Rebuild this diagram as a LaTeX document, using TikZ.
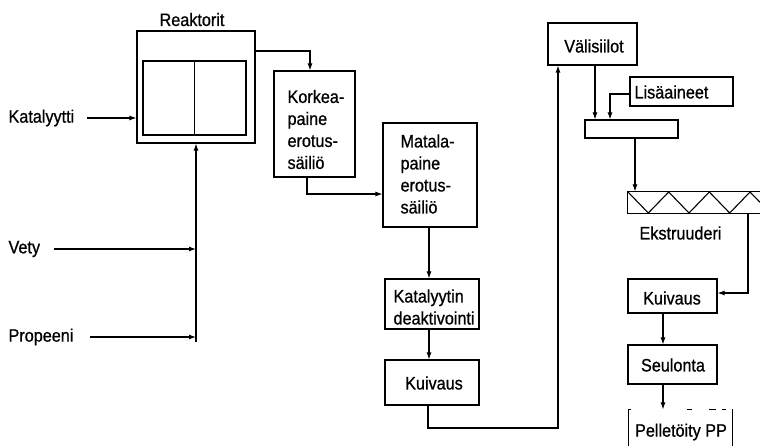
\documentclass[tikz,border=0pt]{standalone}
\usepackage{fontspec}
\setmainfont{Liberation Sans}[FakeStretch=0.9,FakeBold=0.8]
\usetikzlibrary{arrows.meta}
\begin{document}
\begin{tikzpicture}[x=1pt,y=-1pt,
  line width=1.1pt,
  every node/.style={font=\fontsize{18}{22}\selectfont},
  blk/.style={draw, rectangle, inner sep=0pt, line width=1.1pt},
  ghost/.style={rectangle, inner sep=0pt},
  txt/.style={inner sep=0pt, align=left},
  arr/.style={-{Latex[length=7pt,width=5pt]}, line width=1.1pt}]
\useasboundingbox (0,0) rectangle (760,446);
% boxes
\node[blk, minimum width=118, minimum height=112] (reak) at (196,87) {};
\node[blk, minimum width=103, minimum height=74] (inner) at (194.5,98) {};
\draw (inner.north) -- (inner.south);
\node[inner sep=0pt, anchor=base] (reaklbl) at (192,26) {Reaktorit};
\node[blk, minimum width=81, minimum height=106] (korkea) at (314.5,124) {};
\node[txt, anchor=west] (korkeatxt) at (287,129.5) {Korkea-\\paine\\erotus-\\säiliö};
\node[blk, minimum width=94, minimum height=104] (matala) at (430,175) {};
\node[txt, anchor=west] (matalatxt) at (400,174) {Matala-\\paine\\erotus-\\säiliö};
\node[blk, minimum width=94, minimum height=50] (katal) at (432,304) {};
\node[txt, anchor=west] (kataltxt) at (393,307) {Katalyytin\\deaktivointi};
\node[blk, minimum width=94, minimum height=45] (kuiv1) at (432,382.5) {};
\node[txt] (kuiv1txt) at (434,383) {Kuivaus};
\node[blk, minimum width=89, minimum height=42] (vali) at (592.5,44) {};
\node[txt] (valitxt) at (594,46) {Välisiilot};
\node[blk, minimum width=103, minimum height=29] (lisa) at (681.5,91.5) {};
\node[txt, anchor=west] (lisatxt) at (634,92) {Lisäaineet};
\node[blk, minimum width=93, minimum height=18] (mixer) at (631.5,129) {};
\node[ghost, minimum width=132, minimum height=21] (extr) at (694,202.5) {};
\node[txt, anchor=west] (extrtxt) at (639,233) {Ekstruuderi};
\node[blk, minimum width=89, minimum height=34] (kuiv2) at (672.5,296) {};
\node[txt] (kuiv2txt) at (672,298) {Kuivaus};
\node[blk, minimum width=89, minimum height=39] (seul) at (672.5,364.5) {};
\node[txt] (seultxt) at (673,365) {Seulonta};
\node[ghost, minimum width=103, minimum height=40] (pellet) at (680.5,430) {};
\node[txt] (pellettxt) at (681,432) {Pelletöity PP};
% extruder outline
\draw (extr.north east) -- (extr.north west) -- (extr.south west) -- (extr.south east);
\draw (628,192) -- (648.3,213) -- (668.7,192) -- (689,213) -- (709.3,192) -- (729.7,213) -- (750,192) -- (760,202.3);
% pellet box outline
\draw (pellet.west |- 0,446) -- (pellet.north west);
\draw (pellet.east |- 0,446) -- (pellet.north east);
\draw[dash pattern=on 3pt off 56pt on 5pt off 17pt on 7pt off 6pt on 4pt off 10pt] (pellet.north west) -- (pellet.north east);
% feeds
\node[txt, anchor=west] (katlbl) at (8,118) {Katalyytti};
\node[txt, anchor=west] (vetylbl) at (8,249) {Vety};
\node[txt, anchor=west] (proplbl) at (8,337) {Propeeni};
\coordinate (ks) at (87,118);
\draw[arr] (ks) -- (ks -| reak.west);
\coordinate (fb) at (196,342);
\draw[arr] (fb) -- (reak.south);
\coordinate (vs) at (54,249);
\coordinate (vj) at (196,249);
\draw[arr] (vs) -- (vj);
\coordinate (ps) at (90,337);
\coordinate (pj) at (196,337);
\draw[arr] (ps) -- (pj);
% process flow
\coordinate (c1) at (310,51);
\draw[arr] (c1 -| reak.east) -| (c1 |- korkea.north);
\coordinate (c2) at (307,194);
\draw[arr] (c2 |- korkea.south) |- (matala.west |- c2);
\coordinate (c3) at (429,0);
\draw[arr] (c3 |- matala.south) -- (c3 |- katal.north);
\draw[arr] (c3 |- katal.south) -- (c3 |- kuiv1.north);
\coordinate (c4) at (428,428);
\coordinate (c5) at (558,428);
\draw[arr] (c4 |- kuiv1.south) -- (c4) -- (c5) -- (c5 |- vali.south);
\coordinate (c6) at (595,0);
\draw[arr] (c6 |- vali.south) -- (c6 |- mixer.north);
\coordinate (c7) at (610,94);
\draw[arr] (lisa.west |- c7) -| (c7 |- mixer.north);
\coordinate (c8) at (635,0);
\draw[arr] (c8 |- mixer.south) -- (c8 |- extr.north);
\coordinate (c9) at (748,293);
\draw[arr] (c9 |- extr.south) -- (c9) -- (kuiv2.east |- c9);
\coordinate (c10) at (663,0);
\draw[arr] (c10 |- kuiv2.south) -- (c10 |- seul.north);
\draw[arr] (c10 |- seul.south) -- (c10 |- pellet.north);
\end{tikzpicture}
\end{document}
